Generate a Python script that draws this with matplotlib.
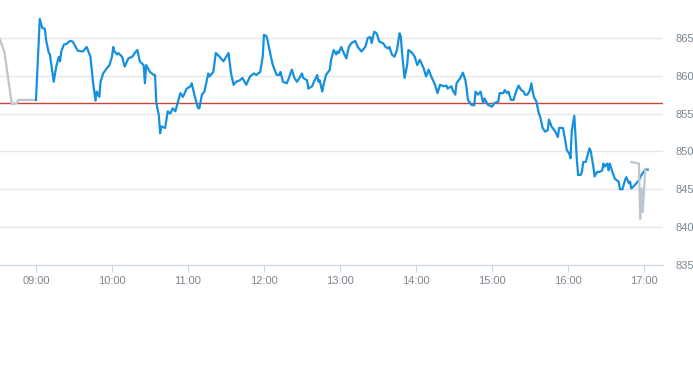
import matplotlib
matplotlib.use("Agg")
import matplotlib.pyplot as plt
import matplotlib.dates as mdates
import pandas as pd

# --- Data ---
DAY = "2024-01-02 "

pre_times = ["08:31", "08:35", "08:41", "08:45", "08:46", "09:00"]
pre_prices = [865.0, 863.2, 856.2, 856.4, 856.8, 856.8]

day_times = [
    "09:00", "09:03", "09:05", "09:07", "09:08", "09:10", "09:11", "09:14", "09:16", "09:18",
    "09:19", "09:20", "09:22", "09:24", "09:27", "09:29", "09:33", "09:37", "09:40", "09:43",
    "09:45", "09:47", "09:48", "09:50", "09:51", "09:53", "09:56", "09:58", "10:00", "10:01",
    "10:02", "10:04", "10:05", "10:08", "10:10", "10:13", "10:16", "10:18", "10:20", "10:22",
    "10:25", "10:26", "10:27", "10:30", "10:33", "10:34", "10:35", "10:37", "10:38", "10:39",
    "10:42", "10:44", "10:46", "10:48", "10:50", "10:54", "10:56", "10:59", "11:02", "11:03",
    "11:05", "11:08", "11:09", "11:11", "11:13", "11:16", "11:17", "11:20", "11:22", "11:25",
    "11:28", "11:32", "11:34", "11:36", "11:38", "11:41", "11:43", "11:46", "11:49", "11:52",
    "11:54", "11:57", "11:59", "12:00", "12:02", "12:03", "12:06", "12:07", "12:10", "12:12",
    "12:13", "12:15", "12:18", "12:19", "12:22", "12:24", "12:26", "12:28", "12:30", "12:31",
    "12:34", "12:35", "12:38", "12:39", "12:42", "12:43", "12:44", "12:46", "12:47", "12:49",
    "12:52", "12:53", "12:55", "12:57", "12:58", "12:59", "13:01", "13:03", "13:05", "13:07",
    "13:09", "13:12", "13:14", "13:17", "13:20", "13:22", "13:24", "13:25", "13:27", "13:29",
    "13:31", "13:34", "13:36", "13:38", "13:39", "13:41", "13:43", "13:45", "13:47", "13:48",
    "13:49", "13:51", "13:53", "13:54", "13:57", "13:59", "14:01", "14:03", "14:06", "14:08",
    "14:10", "14:12", "14:14", "14:15", "14:17", "14:19", "14:22", "14:24", "14:25", "14:28",
    "14:29", "14:31", "14:32", "14:35", "14:37", "14:39", "14:40", "14:41", "14:44", "14:46",
    "14:47", "14:49", "14:51", "14:53", "14:54", "14:57", "14:58", "15:00", "15:02", "15:05",
    "15:06", "15:09", "15:10", "15:12", "15:13", "15:15", "15:17", "15:19", "15:21", "15:23",
    "15:25", "15:26", "15:28", "15:30", "15:31", "15:33", "15:35", "15:37", "15:38", "15:40",
    "15:42", "15:44", "15:45", "15:47", "15:50", "15:52", "15:53", "15:56", "15:58", "15:59",
    "16:01", "16:02", "16:03", "16:05", "16:06", "16:07", "16:08", "16:10", "16:11", "16:12",
    "16:14", "16:17", "16:18", "16:20", "16:21", "16:23", "16:25", "16:27", "16:28", "16:29",
    "16:31", "16:32", "16:33", "16:35", "16:37", "16:40", "16:41", "16:43", "16:45", "16:46",
    "16:48", "16:49", "16:50", "16:53", "16:56", "16:58", "17:01", "17:03",
]
day_prices = [
    856.8, 867.5, 866.3, 866.2, 864.7, 863.1, 862.8, 859.2, 861.2, 862.5,
    861.9, 863.2, 864.1, 864.2, 864.6, 864.5, 863.3, 863.2, 863.8, 862.5,
    859.2, 856.7, 857.9, 857.2, 859.2, 860.3, 861.0, 861.4, 862.5, 863.8,
    863.2, 862.8, 863.0, 862.5, 861.2, 862.3, 862.5, 863.0, 863.4, 861.9,
    861.4, 859.0, 861.4, 860.5, 860.1, 860.1, 856.4, 854.8, 852.4, 853.3,
    853.1, 855.3, 855.0, 855.7, 855.3, 857.7, 857.2, 858.3, 858.6, 859.0,
    857.5, 855.7, 855.7, 857.5, 857.9, 860.3, 859.9, 860.5, 863.0, 862.5,
    861.9, 863.0, 860.3, 858.8, 859.2, 859.4, 859.7, 858.8, 859.9, 860.3,
    860.1, 860.5, 862.5, 865.4, 865.2, 864.5, 862.1, 861.4, 860.1, 860.1,
    860.5, 859.2, 859.0, 859.4, 860.8, 859.7, 859.2, 859.7, 860.3, 859.7,
    859.4, 858.3, 858.6, 859.0, 860.1, 859.2, 859.4, 857.9, 858.8, 860.1,
    860.8, 862.1, 863.4, 862.8, 863.2, 863.0, 863.8, 863.0, 862.3, 863.8,
    864.3, 864.6, 863.8, 863.2, 863.8, 865.0, 865.1, 864.3, 865.8, 865.6,
    864.5, 864.3, 863.8, 863.6, 863.8, 862.8, 862.5, 863.4, 865.6, 865.2,
    863.0, 859.7, 861.4, 863.4, 863.0, 862.5, 861.4, 862.1, 861.0, 859.9,
    860.8, 859.9, 859.2, 858.8, 857.7, 858.8, 858.6, 858.7, 858.3, 858.6,
    858.1, 857.5, 859.0, 859.7, 860.4, 859.4, 858.3, 856.8, 856.1, 856.1,
    857.9, 857.5, 857.9, 856.4, 857.0, 856.1, 856.1, 855.9, 856.4, 856.6,
    857.7, 857.7, 858.1, 857.7, 857.9, 856.8, 856.8, 857.9, 858.7, 858.1,
    857.9, 857.5, 857.5, 858.1, 859.0, 857.2, 856.6, 855.0, 854.6, 853.1,
    852.6, 852.8, 854.2, 853.3, 852.6, 851.9, 853.1, 853.1, 851.3, 850.2,
    849.7, 849.1, 852.8, 854.7, 851.9, 848.9, 846.9, 846.9, 847.3, 848.6,
    848.6, 850.4, 850.0, 848.0, 846.7, 847.3, 847.3, 847.5, 848.4, 848.0,
    848.4, 847.5, 848.4, 847.3, 846.4, 846.0, 845.0, 845.0, 846.2, 846.6,
    845.8, 846.0, 845.1, 845.6, 846.2, 846.9, 847.6, 847.6,
]

post_times = ["16:50", "16:53", "16:56", "16:57", "16:58", "16:59", "17:01"]
post_prices = [848.6, 848.5, 848.4, 841.1, 845.1, 842.0, 847.7]

prev_close = 856.35
y_ticks = [835, 840, 845, 850, 855, 860, 865]


def to_dt(times):
    return pd.to_datetime([DAY + t for t in times])


plt.rcParams["font.family"] = ["Liberation Sans", "DejaVu Sans"]

fig = plt.figure(figsize=(6.93, 3.65), dpi=100)
ax = fig.add_axes([0, 0.274, 663 / 693, 0.726])

ax.plot(to_dt(pre_times), pre_prices, color="#bcc5ce", lw=1.6, zorder=3)
ax.plot(to_dt(day_times), day_prices, color="#1590de", lw=1.6, zorder=4)
ax.plot(to_dt(post_times), post_prices, color="#bcc5ce", lw=1.6, zorder=5)
ax.axhline(prev_close, color="#c8453b", lw=1, zorder=2)

ax.set_xlim(pd.Timestamp(DAY + "08:31:36"), pd.Timestamp(DAY + "17:15:00"))
ax.set_ylim(835, 870)

ax.xaxis.set_major_locator(mdates.HourLocator())
ax.xaxis.set_major_formatter(mdates.DateFormatter("%H:%M"))
ax.set_yticks(y_ticks)
ax.yaxis.tick_right()

ax.grid(axis="y", color="#e6e6e6", lw=1)
ax.set_axisbelow(True)
for side in ["top", "left", "right"]:
    ax.spines[side].set_visible(False)
ax.spines["bottom"].set_color("#ccd6eb")

ax.tick_params(axis="x", length=5, color="#ccd6eb", pad=3, labelsize=8, labelcolor="#7c8792")
ax.tick_params(axis="y", length=0, pad=9, labelsize=8, labelcolor="#7c8792")

fig.savefig("out.png", dpi=100)
